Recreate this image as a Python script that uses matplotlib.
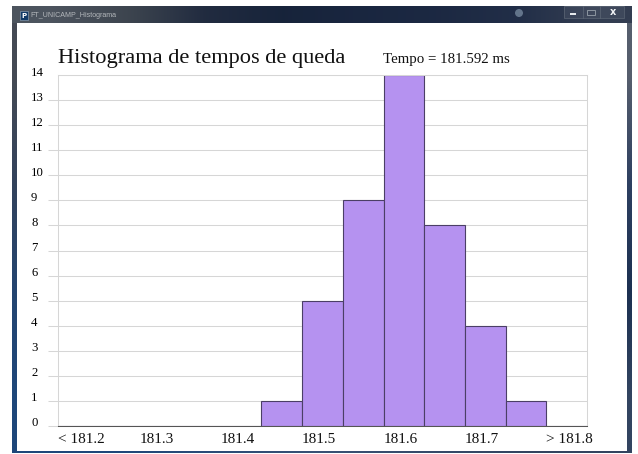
import matplotlib
matplotlib.use('Agg')
import matplotlib.pyplot as plt
from matplotlib.patches import Rectangle
from matplotlib.transforms import ScaledTranslation
import numpy as np

bordas = [181.20, 181.25, 181.30, 181.35, 181.40, 181.45, 181.50,
          181.55, 181.60, 181.65, 181.70, 181.75, 181.80]
contagens = [0, 0, 0, 0, 0, 1, 5, 9, 14, 8, 4, 1, 0]
largura = 0.05
y_ticks = list(range(15))
x_ticks = [181.2, 181.3, 181.4, 181.5, 181.6, 181.7, 181.8]
x_labels = ['< 181.2', '181.3', '181.4', '181.5', '181.6', '181.7', '> 181.8']

plt.rcParams['font.family'] = ['Liberation Serif', 'DejaVu Serif']

W, H = 638, 454
fig = plt.figure(figsize=(W / 100, H / 100), dpi=100)

#################################################################
# Janela (moldura em coordenadas de pixel)
jan = fig.add_axes([0, 0, 1, 1])
jan.axis('off')

# barra de titulo
grad = np.array([[[0.30, 0.33, 0.37], [0.24, 0.27, 0.31], [0.13, 0.17, 0.25],
                  [0.09, 0.14, 0.23], [0.10, 0.15, 0.25], [0.11, 0.16, 0.26],
                  [0.13, 0.18, 0.28], [0.20, 0.24, 0.32]]])
jan.imshow(grad, extent=[12, 632, 23, 6], aspect='auto', interpolation='bilinear', zorder=1)
brilho = plt.Circle((519, 13), 4, color='#8fa3b8', alpha=0.6, lw=0, zorder=2)
jan.add_patch(brilho)

# laterais e base
esq = np.array([[[0.27, 0.29, 0.33]], [[0.20, 0.26, 0.36]], [[0.14, 0.27, 0.44]], [[0.12, 0.28, 0.48]]])
dir_ = np.array([[[0.34, 0.37, 0.43]], [[0.18, 0.25, 0.38]], [[0.11, 0.19, 0.32]], [[0.20, 0.27, 0.38]]])
jan.imshow(esq, extent=[12, 17, 453, 23], aspect='auto', interpolation='bilinear', zorder=1)
jan.imshow(dir_, extent=[627, 632, 453, 23], aspect='auto', interpolation='bilinear', zorder=1)
base = np.array([[[0.12, 0.28, 0.48], [0.22, 0.32, 0.46], [0.20, 0.27, 0.38]]])
jan.imshow(base, extent=[12, 632, 453, 451], aspect='auto', interpolation='bilinear', zorder=1)
jan.set_xlim(0, W)
jan.set_ylim(H, 0)
jan.add_patch(Rectangle((17, 23), 610, 428, fc='white', ec='none', zorder=3))

# icone, nome e botoes
jan.add_patch(Rectangle((20, 11), 8, 9, fc='#123a66', ec='#9ab', lw=0.4, zorder=3))
jan.text(24, 15.5, 'P', color='white', fontsize=5, fontweight='bold', family='DejaVu Sans',
         ha='center', va='center', zorder=4)
jan.text(30, 15.5, 'FT_UNICAMP_Histograma', color='#b4b8bc', fontsize=5.1, family='Liberation Sans',
         va='center', zorder=4)
jan.add_patch(Rectangle((564, 6), 60, 12, fc='#ffffff', alpha=0.06, ec='none', zorder=3))
jan.add_patch(Rectangle((564, 6), 60, 12, fc='none', ec='#5d6776', lw=0.5, zorder=3))
jan.plot([583, 583], [6, 18], color='#5d6776', lw=0.5, zorder=4)
jan.plot([600, 600], [6, 18], color='#5d6776', lw=0.5, zorder=4)
jan.add_patch(Rectangle((570, 13), 6, 2, fc='#e6e9ec', ec='none', zorder=4))
jan.add_patch(Rectangle((587, 10), 8, 5, fc='none', ec='#8c95a0', lw=0.7, zorder=4))
jan.text(613, 12, 'x', color='#f2f4f6', fontsize=7, fontweight='bold', family='DejaVu Sans',
         ha='center', va='center', zorder=4)

#################################################################
# Grafico
x0, x1, y0, y1 = 58, 587, 75, 426
ax = fig.add_axes([x0 / W, 1 - y1 / H, (x1 - x0) / W, (y1 - y0) / H], zorder=5)
ax.patch.set_alpha(0)
ax.set_xlim(181.2, 181.85)
ax.set_ylim(0, 14)

ax.set_axisbelow(True)
ax.grid(True, axis='y', color='#d6d6d6', lw=0.75)
ax.bar(bordas, contagens, width=largura, align='edge', color='#B592F0', edgecolor='#4b3f66', lw=0.8)

for lado in ['top', 'left', 'right']:
    ax.spines[lado].set_color('#d6d6d6')
    ax.spines[lado].set_linewidth(0.75)
ax.spines['bottom'].set_color('#555555')
ax.spines['bottom'].set_linewidth(0.75)

ax.set_yticks(y_ticks)
ax.set_yticklabels([str(v) for v in y_ticks], fontsize=9.2, color='#000000', va='bottom', ha='left')
ax.tick_params(axis='y', length=7.2, width=0.75, color='#d6d6d6', pad=12.2)
ax.yaxis.get_major_ticks()[14].tick1line.set_visible(False)
# rotulos do eixo y ficam um pouco acima da linha
desloca = ScaledTranslation(0, -3.5 / 100, fig.dpi_scale_trans)
for t in ax.get_yticklabels():
    t.set_transform(t.get_transform() + desloca)

ax.set_xticks(x_ticks)
ax.set_xticklabels(x_labels, fontsize=11, color='#111111', ha='left')
ax.tick_params(axis='x', length=0, pad=5)

jan.text(58, 63, 'Histograma de tempos de queda', fontsize=16.15, color='#111111', zorder=6)
jan.text(383, 63, 'Tempo = 181.592 ms', fontsize=10.75, color='#111111', zorder=6)

fig.savefig('out.png', dpi=100, facecolor='white')
